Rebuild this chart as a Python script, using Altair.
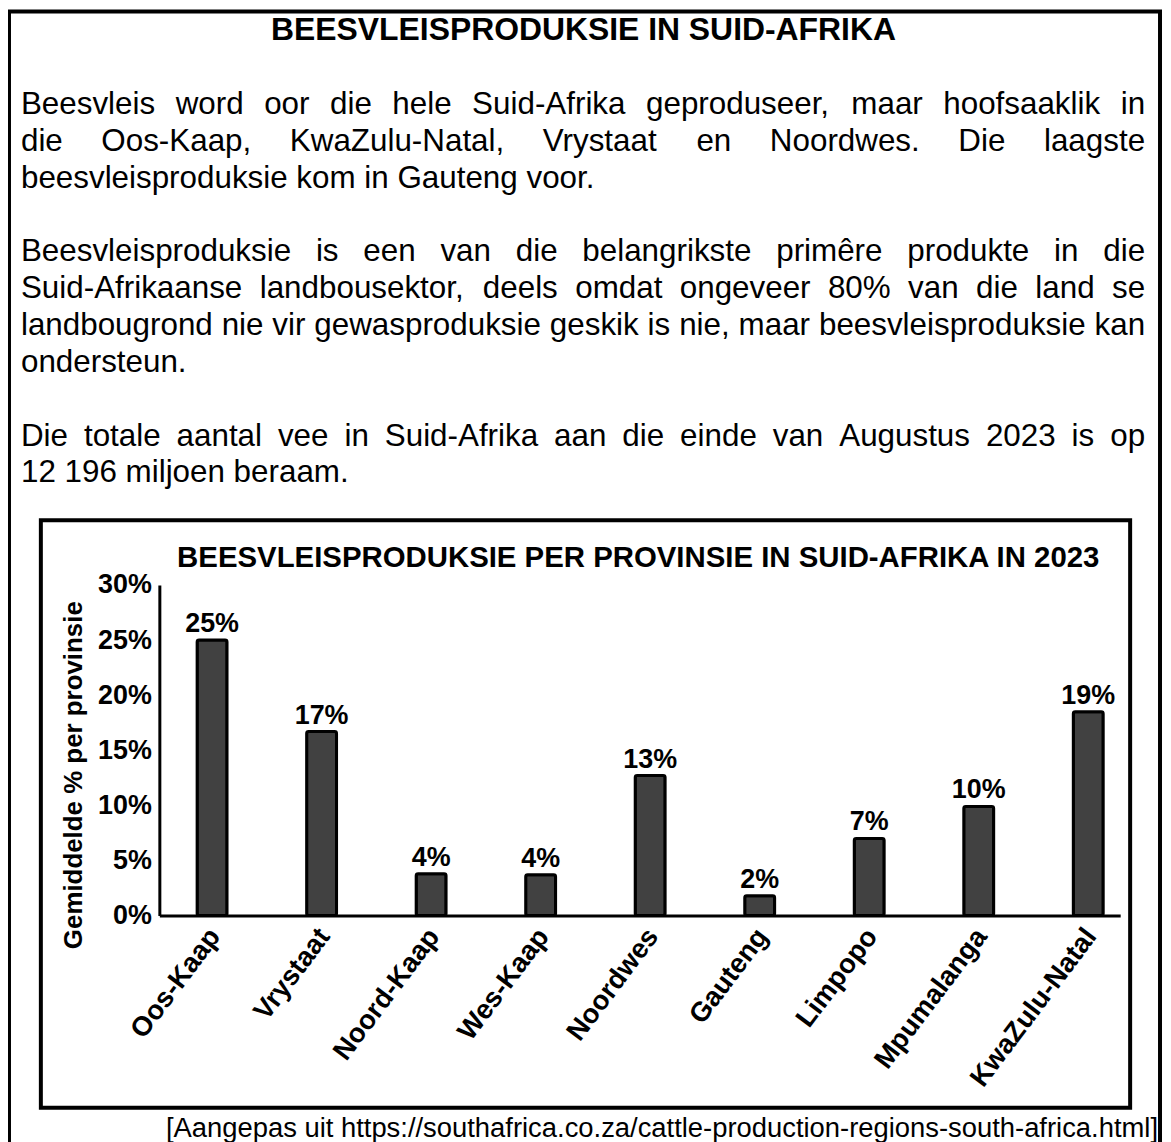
import altair as alt
import pandas as pd

# ---------------- data ----------------
provinces = ["Oos-Kaap", "Vrystaat", "Noord-Kaap", "Wes-Kaap", "Noordwes",
             "Gauteng", "Limpopo", "Mpumalanga", "KwaZulu-Natal"]
values = [25.0, 16.7, 3.8, 3.7, 12.7, 1.8, 7.0, 9.9, 18.5]
value_labels = ["25%", "17%", "4%", "4%", "13%", "2%", "7%", "10%", "19%"]
y_ticks = [0, 5, 10, 15, 20, 25, 30]

heading = "BEESVLEISPRODUKSIE IN SUID-AFRIKA"
paragraphs = [
    ["Beesvleis word oor die hele Suid-Afrika geproduseer, maar hoofsaaklik in",
     "die Oos-Kaap, KwaZulu-Natal, Vrystaat en Noordwes. Die laagste",
     "beesvleisproduksie kom in Gauteng voor."],
    ["Beesvleisproduksie is een van die belangrikste primêre produkte in die",
     "Suid-Afrikaanse landbousektor, deels omdat ongeveer 80% van die land se",
     "landbougrond nie vir gewasproduksie geskik is nie, maar beesvleisproduksie kan",
     "ondersteun."],
    ["Die totale aantal vee in Suid-Afrika aan die einde van Augustus 2023 is op",
     "12 196 miljoen beraam."],
]
chart_title = "BEESVLEISPRODUKSIE PER PROVINSIE IN SUID-AFRIKA IN 2023"
y_title = "Gemiddelde % per provinsie"
source = "[Aangepas uit https://southafrica.co.za/cattle-production-regions-south-africa.html]"

# ---------------- layout (page pixels) ----------------
FONT = "Liberation Sans"
PLOT_LEFT, PLOT_TOP, PLOT_W, PLOT_H = 160, 585, 965, 332
SVG_W, SVG_H = 1160, 1142


def X(px):
    return px - PLOT_LEFT


def Y(py):
    return py - PLOT_TOP


# Arial / Liberation Sans advance widths (1/1000 em)
W = {' ': 278, ',': 278, '-': 333, '.': 278, '/': 278, ':': 278, '%': 889, '[': 278, ']': 278}
W.update({d: 556 for d in "0123456789"})
W.update(dict(zip("ABCDEFGHIJKLMNOPQRSTUVWXYZ",
                  [667, 667, 722, 722, 667, 611, 778, 722, 278, 500, 667, 556, 833,
                   722, 778, 667, 778, 722, 667, 611, 722, 667, 944, 667, 667, 611])))
W.update(dict(zip("abcdefghijklmnopqrstuvwxyz",
                  [556, 556, 500, 556, 556, 278, 556, 556, 222, 222, 500, 222, 833,
                   556, 556, 556, 556, 333, 500, 278, 556, 500, 722, 500, 500, 500])))
W['ê'] = 556


def text_width(s, size):
    return sum(W.get(c, 556) for c in s) * size / 1000.0


PARA_SIZE = 31.5
TEXT_LEFT, TEXT_RIGHT = 21, 1150
LINE_PITCH = 37
FIRST_BASE = 112

rows = []
slot = 0
for p in paragraphs:
    for i, line in enumerate(p):
        base = FIRST_BASE + slot * LINE_PITCH
        words = line.split(" ")
        last = (i == len(p) - 1)
        widths = [text_width(w, PARA_SIZE) for w in words]
        if last or len(words) == 1:
            gap = text_width(" ", PARA_SIZE)
        else:
            gap = (TEXT_RIGHT - TEXT_LEFT - sum(widths)) / (len(words) - 1)
        xpos = TEXT_LEFT
        for w, wd in zip(words, widths):
            rows.append({"t": w, "x": X(xpos), "y": Y(base)})
            xpos += wd + gap
        slot += 1
    slot += 1
words_df = pd.DataFrame(rows)

one = pd.DataFrame({"k": [0]})

# ---------------- layers ----------------
outer_box = alt.Chart(one).mark_rect(fillOpacity=0, stroke="black", strokeWidth=4).encode(
    x=alt.value(X(9)), x2=alt.value(X(1165)), y=alt.value(Y(9)), y2=alt.value(Y(1300)))

inner_box = alt.Chart(one).mark_rect(fillOpacity=0, stroke="black", strokeWidth=4).encode(
    x=alt.value(X(41)), x2=alt.value(X(1135)), y=alt.value(Y(520)), y2=alt.value(Y(1110)))

heading_l = alt.Chart(pd.DataFrame({"t": [heading]})).mark_text(
    font=FONT, fontSize=32, fontWeight="bold", color="black",
    align="center", baseline="alphabetic").encode(
    x=alt.value(X(586)), y=alt.value(Y(38)), text="t:N")

para_l = alt.Chart(words_df).mark_text(
    font=FONT, fontSize=PARA_SIZE, color="black", align="left", baseline="alphabetic").encode(
    x=alt.X("x:Q", scale=None, axis=None),
    y=alt.Y("y:Q", scale=None, axis=None),
    text="t:N")

ctitle_l = alt.Chart(pd.DataFrame({"t": [chart_title]})).mark_text(
    font=FONT, fontSize=29.5, fontWeight="bold", color="black",
    align="center", baseline="alphabetic").encode(
    x=alt.value(X(641)), y=alt.value(Y(567)), text="t:N")

ytitle_l = alt.Chart(pd.DataFrame({"t": [y_title]})).mark_text(
    font=FONT, fontSize=26, fontWeight="bold", color="black",
    align="center", baseline="middle", angle=270).encode(
    x=alt.value(X(74)), y=alt.value(Y(776)), text="t:N")

source_l = alt.Chart(pd.DataFrame({"t": [source]})).mark_text(
    font=FONT, fontSize=27.5, color="black", align="right", baseline="alphabetic").encode(
    x=alt.value(X(1163)), y=alt.value(Y(1139)), text="t:N")

df = pd.DataFrame({"prov": provinces, "val": values, "lab": value_labels})

xenc = alt.X("prov:N", sort=provinces,
             scale=alt.Scale(paddingInner=0.727, paddingOuter=0.25, align=0.69),
             axis=alt.Axis(title=None, labelAngle=-53, labelAlign="right",
                           labelBaseline="middle", labelFont=FONT, labelFontSize=27.5,
                           labelFontWeight="bold", labelColor="black", labelPadding=16,
                           labelOffset=3, labelLimit=400, ticks=False, tickSize=0,
                           domainColor="black", domainWidth=3))
yenc = alt.Y("val:Q", scale=alt.Scale(domain=[0, 30], nice=False),
             axis=alt.Axis(title=None, values=y_ticks, labelExpr="datum.value + '%'",
                           labelFont=FONT, labelFontSize=27, labelFontWeight="bold",
                           labelColor="black", labelPadding=8, ticks=False, tickSize=0,
                           grid=False, domainColor="black", domainWidth=3))

bars = alt.Chart(df).mark_bar(fill="#414141", stroke="black", strokeWidth=3,
                              cornerRadius=2).encode(x=xenc, y=yenc)

bar_text = alt.Chart(df).mark_text(font=FONT, fontSize=27, fontWeight="bold", color="black",
                                   baseline="alphabetic", dy=-8).encode(
    x=alt.X("prov:N", sort=provinces), y=alt.Y("val:Q"), text="lab:N")

bar_chart = alt.layer(bars, bar_text)

chart = alt.layer(
    outer_box, inner_box, heading_l, para_l, ctitle_l, ytitle_l, source_l, bar_chart
).resolve_scale(x="independent", y="independent").properties(
    width=PLOT_W, height=PLOT_H,
    autosize=alt.AutoSizeParams(type="none"),
    padding={"left": PLOT_LEFT - 8, "top": PLOT_TOP - 8,
             "right": SVG_W - (PLOT_LEFT - 8) - PLOT_W,
             "bottom": SVG_H - (PLOT_TOP - 8) - PLOT_H},
    background="white",
).configure_view(stroke=None)

chart.save("out.html", embed_options={"renderer": "svg", "actions": False})
